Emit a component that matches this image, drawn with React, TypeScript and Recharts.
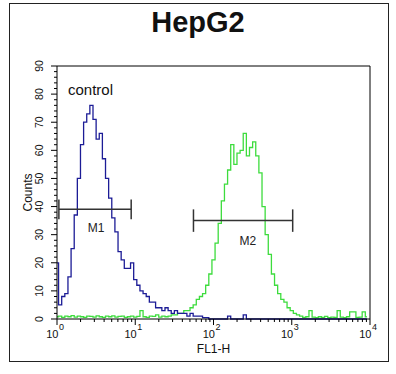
import { Line, LineChart, ReferenceDot, ReferenceLine, XAxis, YAxis } from "recharts";

// FL1-H histogram, 25 channels per decade (channel 0 = 10^0, channel 100 = 10^4)
const controlCounts = [
  20, 5, 8, 9, 15, 25, 37, 50, 62, 70, 73, 76, 71, 64, 66, 57, 50, 43, 36, 31,
  24, 21, 18, 18, 20, 14, 12, 10, 9, 8, 6, 6, 4, 4, 3, 4, 3, 2, 3, 2,
  2, 2, 1, 2, 1, 1, 1, 0.5, 0.5, 0, 0, 0, 0, 0, 0, 1, 0, 0, 0, 0,
  1.5, 0, 0, 0, 0, 0, 0, 0, 0, 0, 0, 0, 0, 0, 0, 0, 0, 0, 0, 0,
  0, 0, 0, 0, 0, 0, 0, 0, 0, 0, 0, 0, 0, 0, 0, 0, 0, 0, 0, 0,
];
const sampleCounts = [
  0.8, 1, 0.6, 1, 0.8, 1.2, 0.7, 1, 0.8, 0.6, 1, 0.9, 0.7, 1.1, 0.8, 0.6, 1, 0.8, 1.1, 0.7,
  0.9, 1, 0.6, 0.8, 1, 0.7, 0.9, 3, 0.8, 0.6, 1, 0.9, 1.5, 0.7, 1, 0.8, 1, 1.5, 1.5, 2,
  2, 3, 3, 4, 5, 7, 8, 9, 12, 16, 21, 27, 34, 42, 48, 53, 62, 55, 59, 60,
  66, 58, 61, 63, 58, 52, 40, 30, 23, 16, 12, 9, 7, 6, 4, 3, 2, 1.5, 1, 0.6,
  0.8, 3, 0.7, 0.5, 0.8, 0.6, 0.9, 0.5, 0.7, 0.6, 3, 0.7, 0.5, 0.8, 2.5, 2.5, 0.6, 0.7, 2.5, 0.8,
];
const decadeTicks = [0, 25, 50, 75, 100];
const decadeExponents = ["0", "1", "2", "3", "4"];
const countTicks = [0, 10, 20, 30, 40, 50, 60, 70, 80, 90];

// gates: [start channel, end channel, count level]
const gates = [
  { name: "M1", from: 0.6, to: 23.7, level: 39, cap: 3.5, labelCh: 12.5, labelY: 32.5 },
  { name: "M2", from: 43.6, to: 75.3, level: 35, cap: 4, labelCh: 61, labelY: 28 },
];

const data = controlCounts.map((c, i) => ({ ch: i, control: c, sample: sampleCounts[i] }));

const minorX: number[] = [];
for (let d = 0; d < 4; d++) for (let k = 2; k < 10; k++) minorX.push(25 * (d + Math.log10(k)));
const minorY: number[] = [];
for (let v = 0; v <= 90; v += 2) minorY.push(v);

const font = "'Liberation Sans', Arial, sans-serif";

function XTick({ x, y, payload }: any) {
  const i = decadeTicks.indexOf(payload.value);
  if (i < 0) return <line x1={x} x2={x} y1={y} y2={y + 3} stroke="#000" />;
  return (
    <g>
      <line x1={x} x2={x} y1={y} y2={y + 6} stroke="#000" />
      <text x={x + 1.5} y={y + 19} textAnchor="end" fontSize={11} fontFamily={font} fill="#111">10</text>
      <text x={x + 2} y={y + 11} textAnchor="start" fontSize={9} fontFamily={font} fill="#111">{decadeExponents[i]}</text>
    </g>
  );
}

function YTick({ x, y, payload }: any) {
  const major = countTicks.includes(payload.value);
  return (
    <g>
      <line x1={x} x2={x - (major ? 6 : 3)} y1={y} y2={y} stroke="#000" />
      {major && (
        <text transform={`translate(${x - 14},${y}) rotate(-90)`} textAnchor="middle" fontSize={10.5} fontFamily={font} fill="#111">
          {payload.value}
        </text>
      )}
    </g>
  );
}

export default function App() {
  return (
    <div style={{ position: "relative", width: 396, height: 374, background: "#fff" }}>
      <style>{`body{margin:0}`}</style>
      <div style={{ position: "absolute", left: 9, top: 3, width: 378, height: 357, border: "1.5px solid #222" }} />
      <div style={{ position: "absolute", left: 0, top: 6, width: 396, textAlign: "center", fontFamily: font, fontWeight: "bold", fontSize: 29, color: "#111" }}>
        HepG2
      </div>
      <div style={{ position: "absolute", left: 0, top: 0 }}>
        <LineChart width={396} height={374} data={data} margin={{ top: 66, right: 26, bottom: 25, left: 27 }}>
          <XAxis
            dataKey="ch"
            type="number"
            domain={[0, 100]}
            ticks={[...decadeTicks, ...minorX]}
            interval={0}
            tick={<XTick />}
            tickLine={false}
            tickSize={0}
            tickMargin={0}
            height={30}
            stroke="#000"
            label={{
              content: ({ viewBox }: any) => (
                <text x={viewBox.x + viewBox.width / 2} y={viewBox.y + 34} textAnchor="middle" fontSize={12} fontFamily={font} fill="#111">
                  FL1-H
                </text>
              ),
            }}
          />
          <YAxis
            type="number"
            domain={[0, 90]}
            ticks={minorY}
            interval={0}
            tick={<YTick />}
            tickLine={false}
            tickSize={0}
            tickMargin={0}
            width={30}
            stroke="#000"
            label={{
              content: ({ viewBox }: any) => (
                <text transform={`translate(${viewBox.x + 5},${viewBox.y + viewBox.height / 2}) rotate(-90)`} textAnchor="middle" fontSize={12} fontFamily={font} fill="#111">
                  Counts
                </text>
              ),
            }}
          />
          <ReferenceLine y={90} stroke="#000" />
          <ReferenceLine x={100} stroke="#000" />
          <Line dataKey="sample" type="step" stroke="#3ddc3d" strokeWidth={1.3} dot={false} isAnimationActive={false} />
          <Line dataKey="control" type="step" stroke="#1c1c96" strokeWidth={1.3} dot={false} isAnimationActive={false} />
          {gates.map((g) => [
            <ReferenceLine key={g.name + "h"} segment={[{ x: g.from, y: g.level }, { x: g.to, y: g.level }]} stroke="#333" strokeWidth={1.5} />,
            <ReferenceLine key={g.name + "a"} segment={[{ x: g.from, y: g.level - g.cap }, { x: g.from, y: g.level + g.cap }]} stroke="#333" strokeWidth={1.5} />,
            <ReferenceLine key={g.name + "b"} segment={[{ x: g.to, y: g.level - g.cap }, { x: g.to, y: g.level + g.cap }]} stroke="#333" strokeWidth={1.5} />,
            <ReferenceDot
              key={g.name + "t"}
              x={g.labelCh}
              y={g.labelY}
              r={0}
              fill="none"
              stroke="none"
              label={{ value: g.name, position: "center", fontSize: 12, fontFamily: font, fill: "#222" }}
            />,
          ])}
          <ReferenceDot
            x={3.5}
            y={81.5}
            r={0}
            fill="none"
            stroke="none"
            label={{
              content: ({ viewBox }: any) => (
                <text x={viewBox.x} y={viewBox.y + 5} textAnchor="start" fontSize={15} fontFamily={font} fill="#111">
                  control
                </text>
              ),
            }}
          />
        </LineChart>
      </div>
    </div>
  );
}
